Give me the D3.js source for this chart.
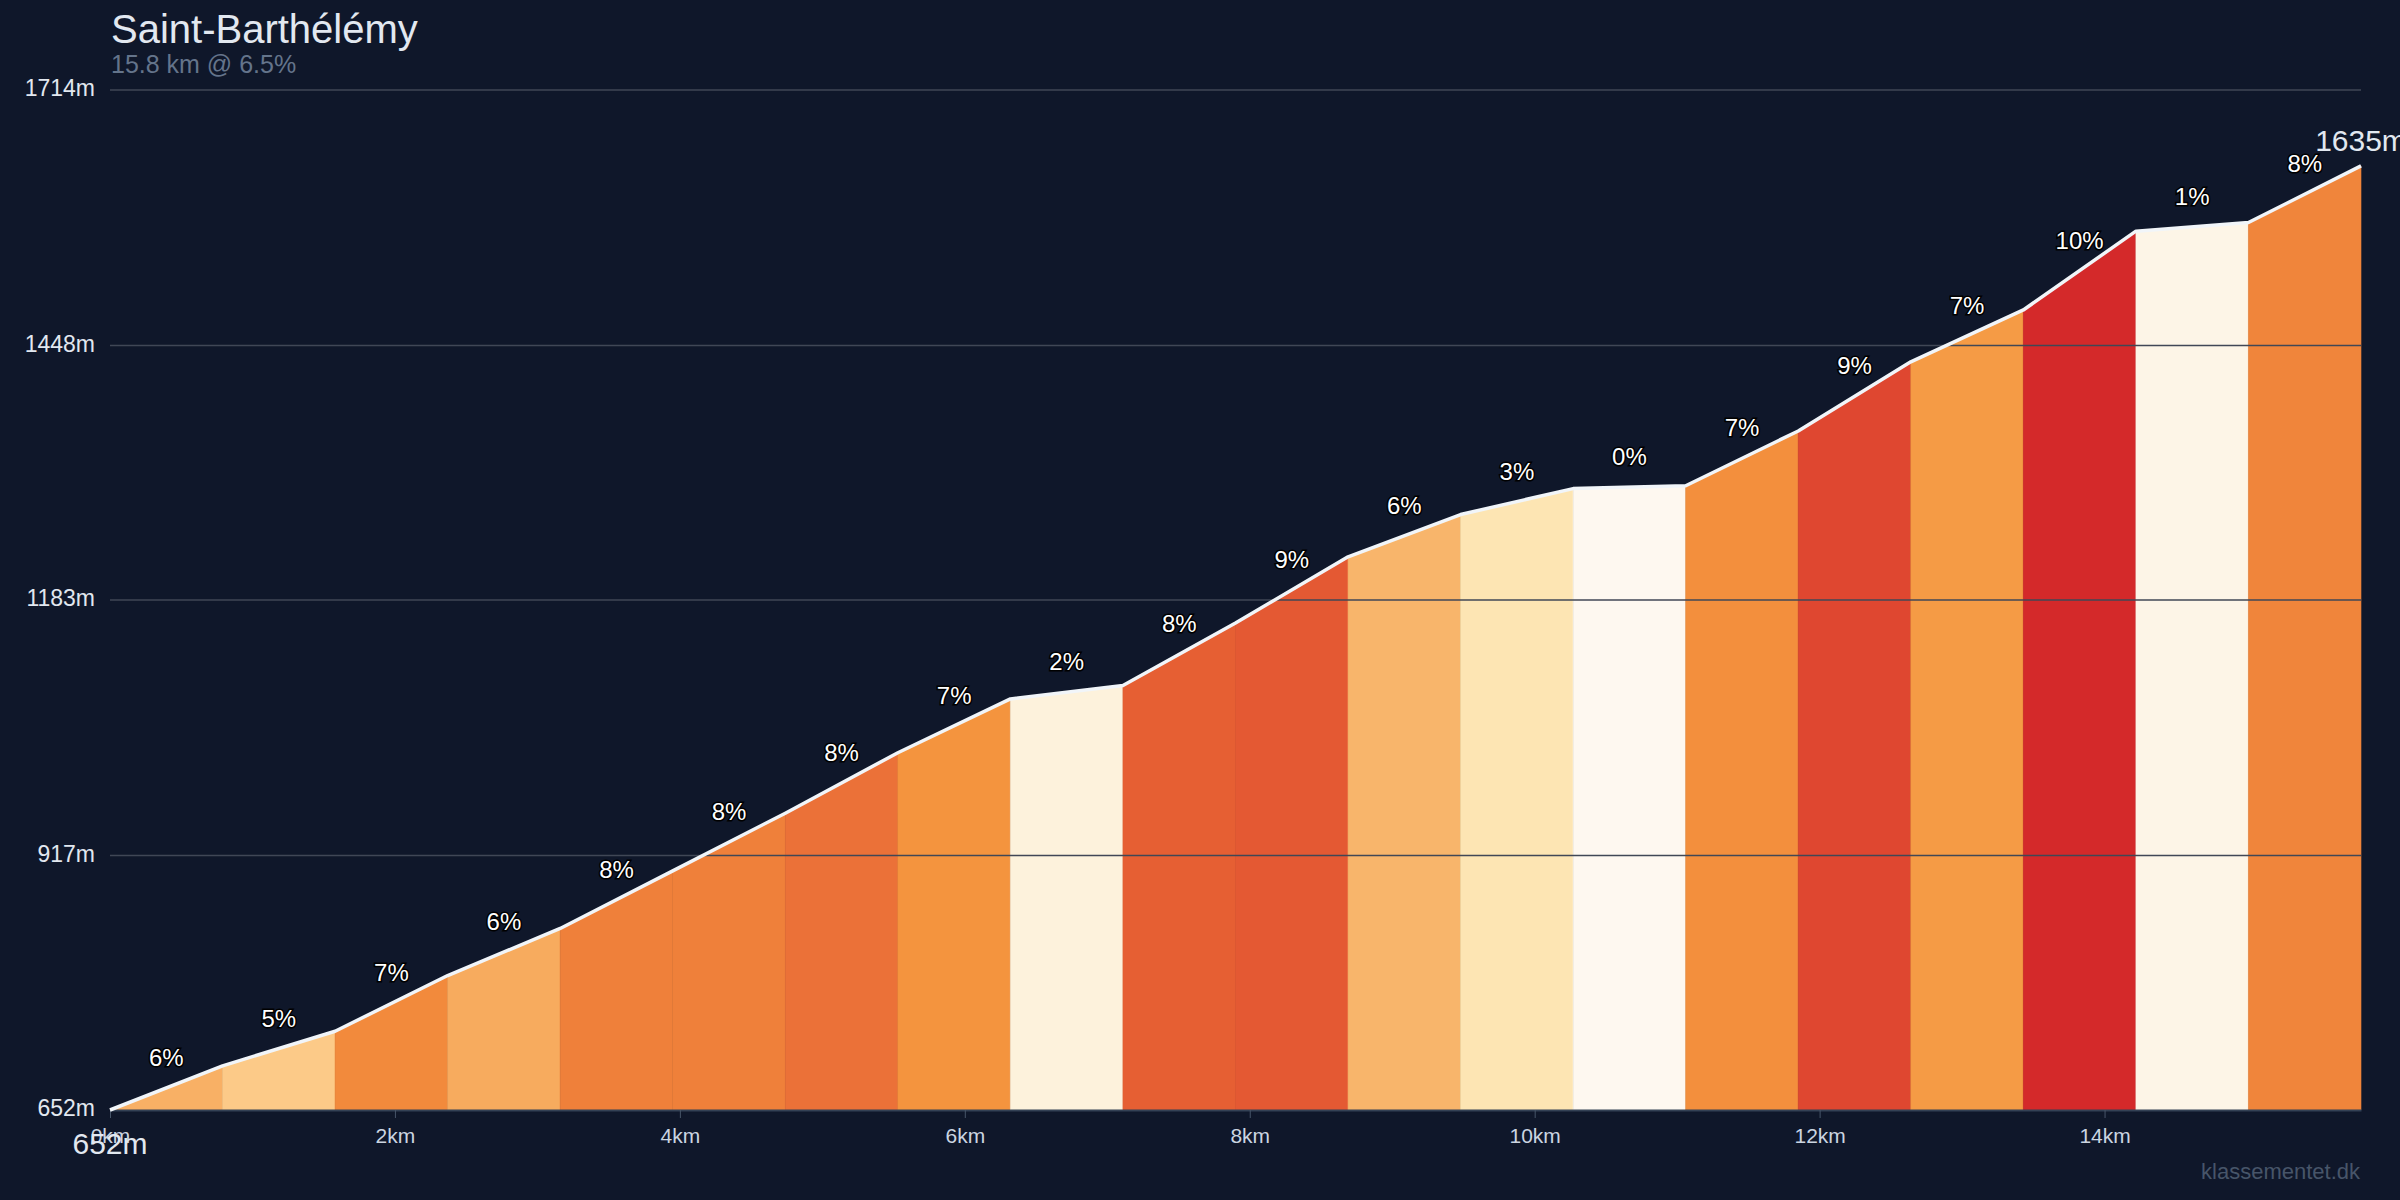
<!DOCTYPE html>
<html lang="en">
<head>
  <meta charset="UTF-8" />
  <title>Saint-Barthélémy</title>
  <script src="https://d3js.org/d3.v7.min.js"></script>
  <style>
    html, body {
      margin: 0;
      background-color: #0f172a;
      font-family: "Liberation Sans", Arial, sans-serif;
    }
    svg { display: block; }
    .grid line { stroke: #404756; stroke-width: 1.5px; }
    .ylabel { font-size: 23px; fill: #e2e8f0; text-anchor: end; dominant-baseline: middle; }
    .xaxis .domain { stroke: #334155; stroke-width: 2px; }
    .xaxis line { stroke: #475569; }
    .xaxis text { font-size: 21px; fill: #cbd5e1; font-family: "Liberation Sans", Arial, sans-serif; }
    .profile { fill: none; stroke: #f1f5f9; stroke-width: 3.5px; stroke-linejoin: round; }
    .grad {
      font-size: 24px;
      fill: #ffffff;
      stroke: #000000;
      stroke-width: 3px;
      paint-order: stroke;
      text-anchor: middle;
    }
    .endlabel { font-size: 30px; fill: #e2e8f0; text-anchor: middle; }
  </style>
</head>
<body>
<svg width="2400" height="1200"></svg>

<script>
// climb data read from the profile
const distKm = [0, 0.79, 1.58, 2.37, 3.16, 3.95, 4.74, 5.53, 6.32, 7.11, 7.9,
                8.69, 9.48, 10.27, 11.06, 11.85, 12.64, 13.43, 14.22, 15.01, 15.8];
const elevation = [652, 698, 734, 792, 841, 901, 961, 1024, 1080, 1094, 1159,
                   1228, 1272, 1299, 1302, 1359, 1431, 1485, 1567, 1576, 1635];
const gradLabels = [6, 5, 7, 6, 8, 8, 8, 7, 2, 8, 9, 6, 3, 0, 7, 9, 7, 10, 1, 8];
const yTicks = [652, 917, 1183, 1448, 1714];
const xTicks = [0, 2, 4, 6, 8, 10, 12, 14];

const title = "Saint-Barthélémy";
const subtitle = "15.8 km @ 6.5%";
const credit = "klassementet.dk";

const svg = d3.select("svg");

const x = d3.scaleLinear().domain([0, 15.8]).range([110, 2361]);
const y = d3.scaleLinear().domain([652, 1714]).range([1110, 90]);

// gradient (%) -> fill colour
const color = d3.scaleLinear()
  .domain([0, 1.5, 3.5, 4.5, 5.7, 6.2, 7.0, 7.5, 8.0, 8.2, 8.7, 9.0, 10.4])
  .range(["#fffaf4", "#fdf4e3", "#fde4b1", "#fccb8a", "#f8b267", "#f7ab5e",
          "#f5973f", "#f0843b", "#eb7038", "#e65f33", "#e45b33", "#e04a30", "#d4292a"])
  .clamp(true);

const points = distKm.map((d, i) => ({ d: d, e: elevation[i] }));
const segments = d3.pairs(points).map(([a, b], i) => ({
  a, b,
  grade: (b.e - a.e) / ((b.d - a.d) * 10),
  label: gradLabels[i]
}));

// title block
svg.append("text")
  .attr("x", 111).attr("y", 43)
  .attr("font-size", 40).attr("fill", "#e2e8f0")
  .text(title);
svg.append("text")
  .attr("x", 111).attr("y", 73)
  .attr("font-size", 25).attr("fill", "#64748b")
  .text(subtitle);

// coloured segments
const area = d3.area()
  .x(p => x(p.d))
  .y0(y(652))
  .y1(p => y(p.e));

svg.append("g")
  .selectAll("path")
  .data(segments)
  .join("path")
  .attr("d", s => area([s.a, s.b]))
  .attr("fill", s => color(s.grade))
  .attr("stroke", s => color(s.grade))
  .attr("stroke-width", 0.6);

// horizontal grid
svg.append("g").attr("class", "grid")
  .selectAll("line")
  .data(yTicks.slice(1))
  .join("line")
  .attr("x1", x(0)).attr("x2", x(15.8))
  .attr("y1", d => y(d)).attr("y2", d => y(d));

svg.append("g")
  .selectAll("text")
  .data(yTicks)
  .join("text")
  .attr("class", "ylabel")
  .attr("x", 95)
  .attr("y", d => y(d))
  .text(d => d + "m");

// x axis
const xAxis = d3.axisBottom(x)
  .tickValues(xTicks)
  .tickSize(8)
  .tickPadding(10)
  .tickSizeOuter(0)
  .tickFormat(d => d + "km");

svg.append("g")
  .attr("class", "xaxis")
  .attr("transform", `translate(0,${y(652)})`)
  .call(xAxis);

// profile line
svg.append("path")
  .datum(points)
  .attr("class", "profile")
  .attr("d", d3.line().x(p => x(p.d)).y(p => y(p.e)));

// gradient labels
svg.append("g")
  .selectAll("text")
  .data(segments)
  .join("text")
  .attr("class", "grad")
  .attr("x", s => x((s.a.d + s.b.d) / 2))
  .attr("y", s => y((s.a.e + s.b.e) / 2) - 22)
  .text(s => s.label + "%");

// start / finish elevations
const first = points[0], last = points[points.length - 1];
svg.append("text")
  .attr("class", "endlabel")
  .attr("x", x(first.d)).attr("y", y(first.e) + 44)
  .text(first.e + "m");
svg.append("text")
  .attr("class", "endlabel")
  .attr("x", x(last.d)).attr("y", y(last.e) - 15)
  .text(last.e + "m");

svg.append("text")
  .attr("x", 2360).attr("y", 1179)
  .attr("text-anchor", "end")
  .attr("font-size", 22).attr("fill", "#475569")
  .text(credit);
</script>
</body>
</html>
